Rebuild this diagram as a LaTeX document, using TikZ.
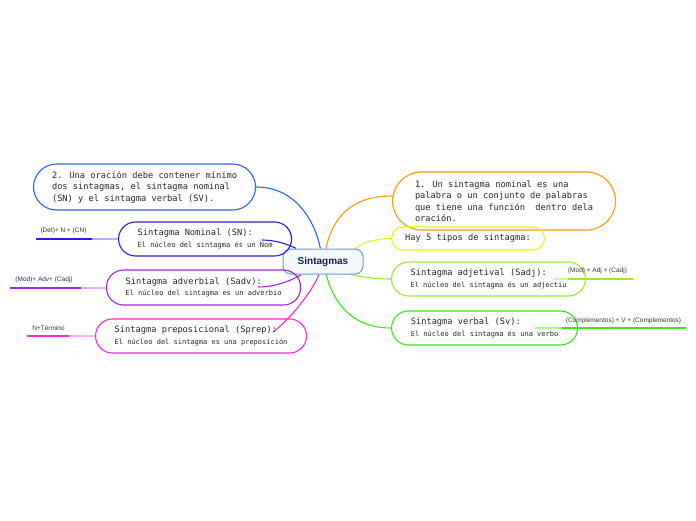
\documentclass[tikz,border=0pt]{standalone}
\usepackage{fontspec}
\usepackage{xcolor}
\usepackage{tikz}
\usetikzlibrary{backgrounds}
\newfontfamily\boxfont{DejaVu Sans Mono}
\newfontfamily\tagfont{Liberation Sans}
\definecolor{cblue}{RGB}{41,98,255}
\definecolor{cindigo}{RGB}{55,20,235}
\definecolor{cpurple}{RGB}{160,35,240}
\definecolor{cmagenta}{RGB}{250,40,210}
\definecolor{corange}{RGB}{255,153,0}
\definecolor{cyellow}{RGB}{240,240,20}
\definecolor{clime}{RGB}{150,235,40}
\definecolor{cgreen}{RGB}{60,230,20}
\definecolor{cborder}{RGB}{90,160,215}
\definecolor{cnavy}{RGB}{20,35,85}

\begin{document}
\begin{tikzpicture}[x=1pt,y=-1pt,
    idea/.style={draw, line width=1.1pt, rounded corners=17pt, anchor=west, align=left,
        inner sep=0pt, minimum height=34pt, text=black!85,
        font=\boxfont\fontsize{8.7}{11.5}\selectfont},
    link/.style={line width=1.1pt},
    tag/.style={inner sep=0pt, text=black!80, font=\tagfont\fontsize{6.5}{8}\selectfont},
    under/.style={line width=2pt}]
    \useasboundingbox (0,0) rectangle (696,520);

    \node[draw=cborder, fill=cborder!6, line width=1pt, rounded corners=8pt,
        minimum width=80pt, minimum height=25pt, text=cnavy,
        font=\tagfont\bfseries\fontsize{10}{12}\selectfont] (centro) at (323,261.5) {Sintagmas};

    \node[idea, draw=cblue, rounded corners=23pt, minimum width=222pt, minimum height=46pt] (oracion) at (33,187)
        {2. Una oración debe contener mínimo\\dos sintagmas, el sintagma nominal\\(SN) y el sintagma verbal (SV).};
    \node[idea, draw=cindigo, minimum width=173pt] (nominal) at (118,239)
        {Sintagma Nominal (SN):\\{\fontsize{7}{9}\selectfont El núcleo del sintagma és un Nom}};
    \node[idea, draw=cpurple, minimum width=194pt, minimum height=35pt] (adverbial) at (106,287.5)
        {Sintagma adverbial (Sadv):\\{\fontsize{7}{9}\selectfont El núcleo del sintagma es un adverbio}};
    \node[idea, draw=cmagenta, minimum width=211pt] (preposicional) at (95,336)
        {Sintagma preposicional (Sprep):\\{\fontsize{7}{9}\selectfont El núcleo del sintagma es una preposición}};

    \node[idea, draw=corange, rounded corners=29pt, minimum width=223pt, minimum height=58pt] (definicion) at (392,201)
        {1. Un sintagma nominal es una\\palabra o un conjunto de palabras\\que tiene una función\ \ dentro dela\\oración.};
    \node[idea, draw=cyellow, rounded corners=11.5pt, minimum width=153pt, minimum height=23pt] (tipos) at (391,238.5)
        {Hay 5 tipos de sintagma:};
    \node[idea, draw=clime, minimum width=194pt] (adjetival) at (391,279)
        {Sintagma adjetival (Sadj):\\{\fontsize{7}{9}\selectfont El núcleo del sintagma és un adjectiu}};
    \node[idea, draw=cgreen, minimum width=186pt] (verbal) at (391,328)
        {Sintagma verbal (Sv):\\{\fontsize{7}{9}\selectfont El núcleo del sintagma és una verbo}};

    \coordinate (nomend) at (262,240);
    \coordinate (advend) at (258,287);
    \coordinate (prepend) at (273,332);

    \begin{scope}[on background layer]
        \draw[link, cblue] (centro) .. controls +(-8,-40) and +(40,0) .. (oracion.east);
        \draw[link, cindigo] (centro) .. controls +(-25,-12) and +(20,0) .. (nomend);
        \draw[link, cpurple] (centro) .. controls +(-20,12) and +(25,0) .. (advend);
        \draw[link, cmagenta] (centro) .. controls +(-8,25) and +(20,-15) .. (prepend);
        \draw[link, corange] (centro) .. controls +(10,-45) and +(-40,0) .. ([yshift=5pt]definicion.west);
        \draw[link, cyellow] (centro) .. controls +(30,-12) and +(-25,0) .. (tipos.west);
        \draw[link, clime] (centro) .. controls +(25,12) and +(-25,0) .. (adjetival.west);
        \draw[link, cgreen] (centro) .. controls +(10,40) and +(-40,0) .. (verbal.west);
    \end{scope}

    \node[tag] (det) at (63.5,231) {(Det)+ N + (CN)};
    \coordinate (detmid) at (92,239);
    \coordinate (detend) at (36,239);
    \draw[under, cindigo!35] (nominal.west) -- (detmid);
    \draw[under, cindigo] (detmid) -- (detend);

    \node[tag] (adv) at (44,280) {(Mod)+ Adv+ (Cadj)};
    \coordinate (advmid) at (81,287.5);
    \coordinate (advfar) at (10,287.5);
    \draw[under, cpurple!35] (adverbial.west) -- (advmid);
    \draw[under, cpurple] (advmid) -- (advfar);

    \node[tag] (ter) at (48.5,328) {N+Término};
    \coordinate (termid) at (69,336);
    \coordinate (terend) at (27,336);
    \draw[under, cmagenta!35] (preposicional.west) -- (termid);
    \draw[under, cmagenta] (termid) -- (terend);

    \node[tag] (adj) at (597.5,271) {(Mod) + Adj + (Cadj)};
    \coordinate (adjstart) at (553,279);
    \coordinate (adjmid) at (568,279);
    \coordinate (adjend) at (633,279);
    \draw[under, clime!45] (adjstart) -- (adjmid);
    \draw[under, clime] (adjmid) -- (adjend);

    \node[tag] (comp) at (623.5,321) {(Complementos) + V + (Complementos)};
    \coordinate (compstart) at (535,328);
    \coordinate (compmid) at (562,328);
    \coordinate (compend) at (686,328);
    \draw[under, cgreen!45] (compstart) -- (compmid);
    \draw[under, cgreen] (compmid) -- (compend);
\end{tikzpicture}
\end{document}
